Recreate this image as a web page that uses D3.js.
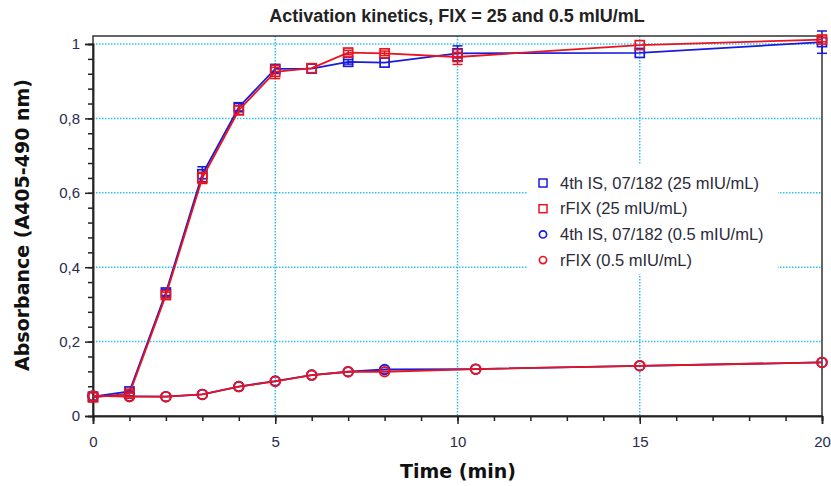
<!DOCTYPE html>
<html>
<head>
<meta charset="utf-8">
<script src="https://cdn.jsdelivr.net/npm/d3@7"></script>
<style>
  body { margin: 0; background: #fff; }
  text { font-family: Arial, "Liberation Sans", sans-serif; }
  text.axis-title { font-family: "DejaVu Sans", sans-serif; font-weight: bold; }
</style>
</head>
<body>
<svg id="chart" width="831" height="486"></svg>
<script>
// data
const times25 = [0, 1, 2, 3, 4, 5, 6, 7, 8, 10, 15, 20];
const is25 = [0.052, 0.066, 0.332, 0.65, 0.83, 0.933, 0.934, 0.952, 0.95, 0.975, 0.976, 1.005];
const is25Err = [0, 0.004, 0.008, 0.02, 0.01, 0.01, 0, 0.006, 0, 0.02, 0, 0.03];
const rfix25 = [0.05, 0.06, 0.325, 0.64, 0.822, 0.925, 0.935, 0.977, 0.975, 0.965, 0.997, 1.012];
const rfix25Err = [0, 0.006, 0.008, 0.015, 0.012, 0.018, 0, 0.006, 0.006, 0.02, 0, 0.006];
const times05 = [0, 1, 2, 3, 4, 5, 6, 7, 8, 10.5, 15, 20];
const is05 = [0.054, 0.053, 0.052, 0.058, 0.079, 0.094, 0.11, 0.119, 0.125, 0.126, 0.135, 0.144];
const rfix05 = [0.054, 0.052, 0.052, 0.058, 0.079, 0.093, 0.11, 0.119, 0.119, 0.126, 0.135, 0.144];
const xTicks = [0, 5, 10, 15, 20];
const yTicks = [0, 0.2, 0.4, 0.6, 0.8, 1];
const legendLabels = ["4th IS, 07/182 (25 mIU/mL)", "rFIX (25 mIU/mL)", "4th IS, 07/182 (0.5 mIU/mL)", "rFIX (0.5 mIU/mL)"];

const series = [
  { times: times25, vals: is25, err: is25Err, color: "#1a1adb", shape: "square" },
  { times: times25, vals: rfix25, err: rfix25Err, color: "#e8141e", shape: "square" },
  { times: times05, vals: is05, err: null, color: "#1a1adb", shape: "circle" },
  { times: times05, vals: rfix05, err: null, color: "#e8141e", shape: "circle" }
];

const svg = d3.select("#chart");
const plotLeft = 93, plotRight = 822, plotTop = 36, plotBottom = 416;

const x = d3.scaleLinear().domain([0, 20]).range([plotLeft, plotRight]);
const y = d3.scaleLinear().domain([0, 1]).range([plotBottom, 44]);

// grid lines, dotted light blue
const grid = svg.append("g").attr("stroke", "#2ec0f0").attr("stroke-width", 1.5).attr("stroke-dasharray", "1.5,1.5");
xTicks.slice(1, -1).forEach(t => {
  grid.append("line").attr("x1", x(t)).attr("x2", x(t)).attr("y1", plotTop).attr("y2", plotBottom);
});
yTicks.slice(1).forEach(t => {
  grid.append("line").attr("x1", plotLeft).attr("x2", plotRight).attr("y1", y(t)).attr("y2", y(t));
});

// frame
svg.append("rect").attr("x", plotLeft).attr("y", plotTop).attr("width", plotRight - plotLeft).attr("height", plotBottom - plotTop)
  .attr("fill", "none").attr("stroke", "#333").attr("stroke-width", 1.5);

// axes
const xAxis = d3.axisBottom(x).tickValues(xTicks).tickSize(8).tickPadding(12).tickFormat(d3.format("d"));
const xMinor = d3.axisBottom(x).tickValues(d3.range(0, 21)).tickSize(5).tickFormat("");
const yAxis = d3.axisLeft(y).tickValues(yTicks).tickSize(8).tickPadding(5)
  .tickFormat(d => d === 0 || d === 1 ? String(d) : String(d).replace("0.", "0,"));
const yMinor = d3.axisLeft(y).tickValues(d3.range(0, 1.001, 0.04)).tickSize(5).tickFormat("");

[xMinor, xAxis].forEach(a => svg.append("g").attr("class", "ax").attr("transform", `translate(0,${plotBottom})`).call(a));
[yMinor, yAxis].forEach(a => svg.append("g").attr("class", "ax").attr("transform", `translate(${plotLeft},0)`).call(a));
svg.selectAll(".ax .domain").attr("stroke", "#222").attr("stroke-width", 1.5);
svg.selectAll(".ax line").attr("stroke", "#222").attr("stroke-width", 1.5);
svg.selectAll(".ax text").attr("font-size", 15).attr("fill", "#2a2a4a");

// series
const line = d3.line().x(d => x(d[0])).y(d => y(d[1]));
series.forEach(s => {
  const g = svg.append("g");
  const pts = s.times.map((t, i) => [t, s.vals[i], s.err ? s.err[i] : 0]);
  g.append("path").datum(pts).attr("d", line).attr("fill", "none").attr("stroke", s.color).attr("stroke-width", 1.8);
  if (s.err) {
    pts.filter(p => p[2] > 0).forEach(p => {
      const cx = x(p[0]);
      g.append("line").attr("x1", cx).attr("x2", cx).attr("y1", y(p[1] - p[2])).attr("y2", y(p[1] + p[2]))
        .attr("stroke", s.color).attr("stroke-width", 1.5);
      [p[1] - p[2], p[1] + p[2]].forEach(v => {
        g.append("line").attr("x1", cx - 5).attr("x2", cx + 5).attr("y1", y(v)).attr("y2", y(v))
          .attr("stroke", s.color).attr("stroke-width", 1.5);
      });
    });
  }
  pts.forEach(p => {
    if (s.shape === "square") {
      g.append("rect").attr("x", x(p[0]) - 4.5).attr("y", y(p[1]) - 4.5).attr("width", 9).attr("height", 9)
        .attr("fill", "none").attr("stroke", s.color).attr("stroke-width", 1.7);
    } else {
      g.append("circle").attr("cx", x(p[0])).attr("cy", y(p[1])).attr("r", 4.8)
        .attr("fill", "none").attr("stroke", s.color).attr("stroke-width", 1.9);
    }
  });
});

// legend
const lg = svg.append("g");
lg.append("rect").attr("x", 527).attr("y", 164).attr("width", 251).attr("height", 110).attr("fill", "#fff");
legendLabels.forEach((lab, i) => {
  const s = series[i];
  const cy = 183 + i * 25.7;
  if (s.shape === "square") {
    lg.append("rect").attr("x", 539).attr("y", cy - 4).attr("width", 8).attr("height", 8)
      .attr("fill", "none").attr("stroke", s.color).attr("stroke-width", 1.5);
  } else {
    lg.append("circle").attr("cx", 543).attr("cy", cy).attr("r", 3.6)
      .attr("fill", "none").attr("stroke", s.color).attr("stroke-width", 1.7);
  }
  lg.append("text").attr("x", 560).attr("y", cy + 5.5).attr("font-size", 16.5).attr("fill", "#2a2a3a").text(lab);
});

// titles
svg.append("text").attr("x", 457).attr("y", 22).attr("text-anchor", "middle").attr("font-size", 18)
  .attr("font-weight", "bold").attr("fill", "#222").text("Activation kinetics, FIX = 25 and 0.5 mIU/mL");
svg.append("text").attr("class", "axis-title").attr("x", 458).attr("y", 478).attr("text-anchor", "middle")
  .attr("font-size", 19).attr("fill", "#111").text("Time (min)");
svg.append("text").attr("class", "axis-title").attr("transform", "translate(29,225) rotate(-90)").attr("text-anchor", "middle")
  .attr("font-size", 19).attr("fill", "#111").text("Absorbance (A405-490 nm)");
</script>
</body>
</html>
